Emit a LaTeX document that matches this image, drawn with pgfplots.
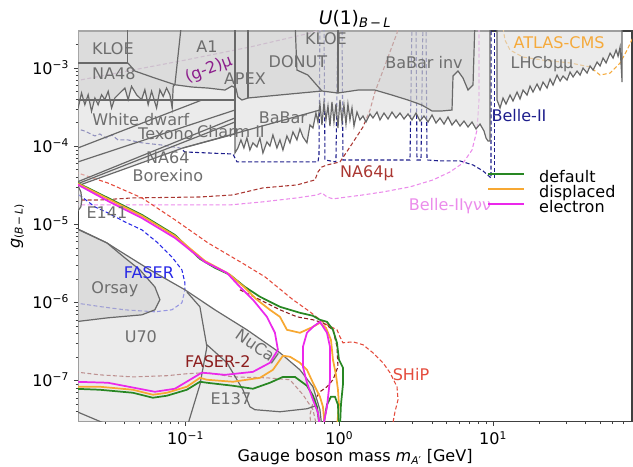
\documentclass[border=0pt]{standalone}
\usepackage{fontspec}
\setmainfont{DejaVu Sans}
\usepackage{pgfplots}
\pgfplotsset{compat=1.18}
\definecolor{gedge}{RGB}{105,105,105}
\definecolor{gfill}{RGB}{222,222,222}
\definecolor{gover}{RGB}{185,185,185}
\definecolor{txtgray}{RGB}{110,110,110}
\definecolor{cdefault}{RGB}{40,135,35}
\definecolor{cdisp}{RGB}{247,168,50}
\definecolor{celec}{RGB}{235,40,235}
\definecolor{cbelle}{RGB}{30,30,140}
\definecolor{cna}{RGB}{170,55,50}
\definecolor{cbinv}{RGB}{235,140,235}
\definecolor{cgtwo}{RGB}{205,150,205}
\definecolor{cgtwotxt}{RGB}{140,30,140}
\definecolor{catlas}{RGB}{245,170,60}
\definecolor{cfaser}{RGB}{40,40,230}
\definecolor{cfasertwo}{RGB}{140,30,30}
\definecolor{cship}{RGB}{228,75,60}
\pgfplotsset{fp/.style={forget plot}}
\tikzset{dsh/.style={line width=0.8pt, dash pattern=on 3pt off 1.8pt},
 edg/.style={draw=gedge, line width=0.9pt},
 sig/.style={line width=1.3pt},
 lab/.style={font=\fontsize{12}{14}\selectfont, text=txtgray, inner sep=0pt}}
\begin{document}
\begin{tikzpicture}
\begin{axis}[
 scale only axis, width=414.75pt, height=292.5pt,
 xmode=log, ymode=log,
 xmin=0.02, xmax=80, ymin=3e-8, ymax=3e-3,
 no markers,
 tick align=outside,
 xtick pos=lower, ytick pos=left,
 major tick length=3.2pt, minor tick length=1.8pt,
 every tick/.style={black!75, line width=0.6pt},
 axis line style={black!75, line width=0.8pt},
 xtick={0.1,1,10},
 xticklabels={10\textsuperscript{−1},10\textsuperscript{0},10\textsuperscript{1}},
 minor xtick={0.03,0.04,0.05,0.06,0.07,0.08,0.09,0.2,0.3,0.4,0.5,0.6,0.7,0.8,0.9,2,3,4,5,6,7,8,9,20,30,40,50,60,70},
 ytick={1e-7,1e-6,1e-5,1e-4,1e-3},
 yticklabels={10\textsuperscript{−7},10\textsuperscript{−6},10\textsuperscript{−5},10\textsuperscript{−4},10\textsuperscript{−3}},
 minor ytick={4e-8,5e-8,6e-8,7e-8,8e-8,9e-8,2e-7,3e-7,4e-7,5e-7,6e-7,7e-7,8e-7,9e-7,2e-6,3e-6,4e-6,5e-6,6e-6,7e-6,8e-6,9e-6,2e-5,3e-5,4e-5,5e-5,6e-5,7e-5,8e-5,9e-5,2e-4,3e-4,4e-4,5e-4,6e-4,7e-4,8e-4,9e-4,2e-3},
 ticklabel style={font=\fontsize{12}{14}\selectfont, inner sep=0pt},
 xticklabel style={anchor=base, yshift=-14.2pt},
 yticklabel style={anchor=base east, xshift=-3.4pt, yshift=-4.4pt},
 title={\textit{U}(1)\textsubscript{\textit{B}\,−\,\textit{L}}},
 title style={at={(axis description cs:0.5,1)}, anchor=base, yshift=-1.5pt, font=\fontsize{14}{16}\selectfont, inner sep=0pt},
 xlabel={Gauge boson mass \textit{m}\textsubscript{\textit{A}′} [GeV]},
 xlabel style={at={(axis description cs:0.5,-0.1026)}, anchor=base, font=\fontsize{12}{14}\selectfont, inner sep=0pt},
 ylabel={\textit{g}\textsubscript{(\textit{B}\,−\,\textit{L})}},
 ylabel style={at={(axis description cs:-0.105,0.5)}, anchor=base, font=\fontsize{12}{14}\selectfont, inner sep=0pt},
 legend style={at={(0.7387,0.6423)}, anchor=north west, draw=none, fill=none, inner sep=0pt, row sep=0pt, column sep=10pt, font=\fontsize{12}{12}\selectfont, nodes={inner sep=0.4pt, text height=8pt, text depth=2.5pt}},
 legend cell align=left,
 legend image code/.code={\draw[#1, line width=1.3pt] (0pt,3.5pt) -- (27pt,3.5pt);},
]
% ---------------- dashed projections (under the grey fills)
\addplot[fp, dsh, cbelle] coordinates {(0.0190,1.72e-4) (0.0221,1.57e-4) (0.0257,1.36e-4) (0.0277,1.44e-4) (0.0303,1.28e-4) (0.0332,1.40e-4) (0.0363,1.21e-4) (0.0421,1.21e-4) (0.0520,1.11e-4) (0.0701,1.04e-4) (0.0918,9.54e-5) (0.0990,8.48e-5) (0.203,7.99e-5) (0.216,6.32e-5) (0.726,6.32e-5) (0.737,7.76e-5) (0.748,4.2e-3) (0.794,4.2e-3) (0.806,6.70e-5) (0.950,6.32e-5) (0.979,4.2e-3) (1.040,4.2e-3) (1.055,6.70e-5) (2.879,6.70e-5) (2.968,4.2e-3) (3.150,4.2e-3) (3.198,6.70e-5) (3.395,6.70e-5) (3.499,4.2e-3) (3.659,4.2e-3) (3.715,6.70e-5) (4.513,6.51e-5) (6.090,6.51e-5) (7.400,5.78e-5) (8.598,4.85e-5) (9.690,3.94e-5) (9.690,4.2e-3)};
\addplot[fp, dsh, cbelle] coordinates {(10.14,3.94e-5) (10.14,4.2e-3)};
\addplot[fp, dsh, cna] coordinates {(0.0190,2.06e-5) (0.0277,2.06e-5) (0.0454,2.19e-5) (0.124,2.25e-5) (0.203,2.39e-5) (0.318,2.94e-5) (0.530,3.21e-5) (0.694,3.72e-5) (0.726,4.71e-5) (0.770,5.45e-5) (0.831,5.78e-5) (1.009,6.32e-5) (1.172,9.82e-5) (1.424,1.77e-4) (1.582,2.92e-4) (1.704,4.96e-4) (2.371,2.82e-3) (2.442,4.2e-3)};
\addplot[fp, dsh, cbinv] coordinates {(0.0190,1.78e-5) (0.0586,1.78e-5) (0.194,1.78e-5) (0.318,1.95e-5) (0.530,2.19e-5) (0.715,2.39e-5) (0.770,2.54e-5) (0.831,2.25e-5) (0.909,2.13e-5) (1.424,2.39e-5) (1.921,2.61e-5) (2.879,3.03e-5) (4.064,3.72e-5) (5.243,4.71e-5) (6.371,6.13e-5) (7.290,8.99e-5) (7.857,1.62e-4) (8.096,3.92e-4) (8.096,4.2e-3)};
\addplot[fp, dsh, cgtwo] coordinates {(0.0190,6.86e-4) (0.0990,1.27e-3) (0.262,1.87e-3) (0.644,2.82e-3) (0.869,3.36e-3)};
\addplot[fp, dsh, catlas] coordinates {(11.60,3.3e-3) (11.95,2.29e-3) (12.88,1.71e-3) (15.65,1.39e-3) (21.12,1.27e-3) (31.65,1.17e-3) (42.70,1.04e-3) (49.61,8.18e-4) (57.63,8.68e-4) (66.93,1.17e-3) (74.34,1.71e-3) (82,2.6e-3)};
\addplot[fp, dsh, cfaser] coordinates {(0.0202,2.39e-5) (0.0212,2.25e-5) (0.0257,1.68e-5) (0.0312,1.41e-5) (0.0403,1.08e-5) (0.0520,8.53e-6) (0.0660,5.82e-6) (0.0814,3.85e-6) (0.0946,2.63e-6) (0.0990,1.79e-6) (0.0990,1.46e-6) (0.0946,9.94e-7) (0.0814,8.09e-7) (0.0631,7.63e-7) (0.0403,8.09e-7) (0.0285,8.84e-7) (0.0190,9.94e-7)};
\addplot[fp, dsh, cfasertwo] coordinates {(0.0190,1.30e-7) (0.0277,1.19e-7) (0.0454,1.12e-7) (0.0756,1.16e-7) (0.1019,1.23e-7) (0.1376,1.27e-7) (0.203,1.12e-7) (0.338,1.09e-7) (0.477,1.03e-7) (0.580,6.62e-8) (0.6735,4.26e-8) (0.715,2.5e-8)};
\addplot[fp, dsh, cfasertwo] coordinates {(0.2255,1.46e-6) (0.304,1.09e-6) (0.411,8.09e-7) (0.530,6.58e-7) (0.6735,6.03e-7) (0.782,5.52e-7) (0.909,4.49e-7) (0.965,2.72e-7) (0.979,1.51e-7) (0.909,1.03e-7) (0.831,8.38e-8) (0.748,7.23e-8) (0.6735,5.23e-8) (0.644,3.67e-8) (0.6535,2.5e-8)};
\addplot[fp, dsh, cship] coordinates {(0.0190,4.71e-5) (0.0312,3.40e-5) (0.0520,2.19e-5) (0.0852,1.15e-5) (0.1397,5.82e-6) (0.2324,3.23e-6) (0.3281,2.14e-6) (0.499,1.09e-6) (0.644,7.63e-7) (0.748,6.03e-7) (0.831,5.20e-7) (0.965,4.49e-7) (1.009,3.65e-7) (1.055,3.06e-7) (1.226,3.15e-7) (1.424,2.89e-7) (1.654,2.28e-7) (1.921,1.70e-7) (2.134,1.27e-7) (2.371,8.38e-8) (2.406,5.71e-8) (2.300,4.01e-8) (2.199,2.5e-8)};
% ---------------- grey excluded regions
\addplot[fp, edg, fill=gfill, fill opacity=0.6] coordinates {(0.0190,3.03e-5) (0.0960,9.54e-5) (0.2093,1.44e-4) (0.2093,8.23e-5) (0.2189,9.54e-5) (0.2290,1.21e-4) (0.2394,9.54e-5) (0.2504,1.28e-4) (0.2619,8.99e-5) (0.2741,1.11e-4) (0.2910,9.82e-5) (0.3043,1.28e-4) (0.3183,8.23e-5) (0.3380,1.14e-4) (0.3535,1.01e-4) (0.3698,1.40e-4) (0.3926,9.54e-5) (0.4107,1.21e-4) (0.4295,8.99e-5) (0.4560,1.36e-4) (0.4771,1.11e-4) (0.4990,1.53e-4) (0.5298,1.21e-4) (0.5543,1.67e-4) (0.5797,1.32e-4) (0.6155,1.11e-4) (0.6438,1.88e-4) (0.6735,1.72e-4) (0.7041,2.67e-4) (0.7256,2.05e-4) (0.7477,3.49e-4) (0.7705,1.88e-4) (0.7940,3.59e-4) (0.8182,2.18e-4) (0.8431,3.29e-4) (0.8688,1.82e-4) (0.8951,3.70e-4) (0.9224,2.05e-4) (0.9504,3.49e-4) (0.9792,1.72e-4) (1.009,3.92e-4) (1.040,2.05e-4) (1.071,3.38e-4) (1.104,1.93e-4) (1.137,3.49e-4) (1.172,2.18e-4) (1.208,3.10e-4) (1.245,1.82e-4) (1.302,2.75e-4) (1.361,2.18e-4) (1.424,2.45e-4) (1.490,2.05e-4) (1.582,2.60e-4) (1.654,2.31e-4) (1.757,2.75e-4) (1.837,2.18e-4) (1.951,2.67e-4) (2.072,2.24e-4) (2.199,2.75e-4) (2.335,2.31e-4) (2.479,2.67e-4) (2.633,2.24e-4) (2.795,2.60e-4) (2.968,2.18e-4) (3.150,2.67e-4) (3.345,2.11e-4) (3.551,2.45e-4) (3.771,2.05e-4) (4.004,2.52e-4) (4.251,1.99e-4) (4.513,2.31e-4) (4.793,1.93e-4) (5.089,2.38e-4) (5.403,1.88e-4) (5.737,2.18e-4) (6.090,1.82e-4) (6.467,2.11e-4) (6.866,1.77e-4) (7.290,2.05e-4) (7.742,1.67e-4) (8.219,1.93e-4) (8.726,1.57e-4) (8.991,1.28e-4) (9.265,1.17e-4) (9.546,1.17e-4) (9.546,4.2e-3) (0.0190,4.2e-3)};
\addplot[fp, edg, fill=gfill, fill opacity=0.6] coordinates {(10.60,4.2e-3) (10.60,3.92e-4) (11.09,3.10e-4) (11.60,4.16e-4) (12.13,3.49e-4) (12.88,4.54e-4) (13.47,3.81e-4) (14.31,4.96e-4) (14.96,4.04e-4) (15.65,5.26e-4) (16.62,4.54e-4) (17.39,5.92e-4) (18.18,4.96e-4) (19.30,6.28e-4) (20.19,5.26e-4) (21.12,6.66e-4) (22.42,5.58e-4) (23.46,7.27e-4) (24.53,6.10e-4) (26.05,8.18e-4) (27.25,6.86e-4) (28.50,7.95e-4) (30.26,7.06e-4) (31.65,8.94e-4) (33.11,7.72e-4) (35.14,9.21e-4) (36.77,8.18e-4) (38.45,1.006e-3) (40.83,8.68e-4) (42.70,1.07e-3) (44.67,9.48e-4) (47.43,1.20e-3) (49.61,1.07e-3) (51.88,1.35e-3) (54.28,1.17e-3) (57.63,1.56e-3) (60.27,1.35e-3) (63.04,1.71e-3) (64.96,1.43e-3) (66.93,1.87e-3) (68.98,6.66e-4) (68.98,4.2e-3)};
\addplot[fp, edg, fill=gfill, fill opacity=0.6] coordinates {(0.0190,9.05e-6) (0.02053,8.53e-6) (0.03076,5.82e-6) (0.03627,4.73e-6) (0.05857,2.63e-6) (0.0990,1.46e-6) (0.1551,8.09e-7) (0.2504,4.49e-7) (0.4107,2.28e-7) (0.5543,1.38e-7) (0.6735,8.38e-8) (0.7477,4.26e-8) (0.7705,2.5e-8) (0.0190,2.5e-8)};
\addplot[fp, edg, fill=gfill, fill opacity=0.6] coordinates {(0.0190,3.12e-5) (0.0200,3.12e-5) (0.02084,2.61e-5) (0.02115,2.06e-5) (0.02084,1.68e-5) (0.0195,1.41e-5) (0.0190,1.41e-5)};
\addplot[fp, edg, fill=gover, fill opacity=0.3] coordinates {(0.0190,3.10e-4) (0.0200,3.10e-4) (0.02105,4.82e-4) (0.02212,3.41e-4) (0.02324,4.58e-4) (0.02445,2.81e-4) (0.02570,4.16e-4) (0.02700,3.41e-4) (0.02841,4.58e-4) (0.02984,3.96e-4) (0.03138,5.07e-4) (0.03301,3.10e-4) (0.03467,4.16e-4) (0.03737,4.82e-4) (0.04028,5.58e-4) (0.04230,3.96e-4) (0.04451,5.87e-4) (0.04799,4.58e-4) (0.05172,3.96e-4) (0.05434,5.31e-4) (0.05710,3.41e-4) (0.06009,5.07e-4) (0.06476,3.10e-4) (0.06805,5.31e-4) (0.07151,4.37e-4) (0.07524,5.58e-4) (0.07904,4.58e-4) (0.08181,3.10e-4) (0.08305,5.87e-4) (0.08519,6.15e-4) (0.1099,5.75e-4) (0.1397,5.58e-4) (0.1802,5.26e-4) (0.2001,5.92e-4) (0.2124,5.58e-4) (0.2189,4.28e-4) (0.2324,3.92e-4) (0.2542,4.16e-4) (0.4771,4.68e-4) (0.7705,5.11e-4) (0.9792,4.82e-4) (1.321,5.26e-4) (1.704,5.26e-4) (2.199,4.54e-4) (2.795,3.92e-4) (3.446,3.38e-4) (4.004,2.84e-4) (4.651,2.84e-4) (5.403,2.92e-4) (5.484,7.95e-4) (5.910,9.21e-4) (6.371,7.49e-4) (6.866,5.26e-4) (7.400,6.10e-4) (7.625,4.2e-3) (0.0190,4.2e-3)};
\addplot[fp, edg, fill=gover, fill opacity=0.3] coordinates {(0.0190,9.05e-6) (0.03076,5.82e-6) (0.04028,3.74e-6) (0.05043,2.63e-6) (0.06313,1.59e-6) (0.06805,1.09e-6) (0.06313,8.09e-7) (0.05196,6.98e-7) (0.03124,6.39e-7) (0.0190,5.68e-7)};
% ---------------- grey boundary lines
\addplot[fp, edg] coordinates {(0.04212,4.2e-3) (0.04212,1.17e-3) (0.0190,1.17e-3)};
\addplot[fp, edg] coordinates {(0.04212,1.17e-3) (0.04679,9.21e-4) (0.06313,7.49e-4) (0.08519,6.15e-4)};
\addplot[fp, edg] coordinates {(0.09461,4.2e-3) (0.08519,6.15e-4)};
\addplot[fp, edg] coordinates {(0.2093,4.2e-3) (0.2093,1.44e-4)};
\addplot[fp, edg] coordinates {(0.2542,4.2e-3) (0.2542,4.16e-4)};
\addplot[fp, edg] coordinates {(0.5142,4.2e-3) (0.5298,9.48e-4) (0.6248,8.18e-4) (0.7705,5.11e-4)};
\addplot[fp, edg] coordinates {(0.9792,4.2e-3) (0.9792,4.82e-4)};
\addplot[fp, edg] coordinates {(0.0190,3.92e-4) (0.2093,3.92e-4)};
\addplot[fp, edg] coordinates {(0.0190,9.2e-5) (0.1276,3.92e-4)};
\addplot[fp, edg] coordinates {(0.0190,6.13e-5) (0.2093,2.92e-4)};
\addplot[fp, edg] coordinates {(0.0190,3.40e-5) (0.2093,2.31e-4)};
\addplot[fp, edg] coordinates {(0.0190,3.21e-5) (0.2093,2.05e-4)};
\addplot[fp, edg] coordinates {(0.0960,9.54e-5) (0.7477,2.92e-4)};
\addplot[fp, edg] coordinates {(0.1019,1.37e-6) (0.1239,8.84e-7) (0.1376,2.72e-7) (0.1239,8.89e-8) (0.1019,2.5e-8)};
\addplot[fp, edg] coordinates {(0.1376,2.89e-7) (0.1857,1.70e-7) (0.2359,7.67e-8) (0.2619,4.65e-8) (0.2824,4.26e-8) (0.4107,4.01e-8) (0.6155,4.38e-8) (0.7041,4.79e-8)};
\addplot[fp, edg] coordinates {(0.0190,4.13e-8) (0.0347,2.5e-8)};
% ---------------- sensitivity curves
\addplot[sig, cdefault] coordinates {(0.0190,3.55e-5) (0.03124,2.19e-5) (0.05196,1.33e-5) (0.08519,7.36e-6) (0.1239,3.63e-6) (0.1551,2.79e-6) (0.1942,2.27e-6) (0.2430,1.59e-6) (0.3043,1.19e-6) (0.4107,8.84e-7) (0.5543,7.41e-7) (0.6735,6.78e-7) (0.7477,6.03e-7) (0.8306,5.68e-7) (0.9087,4.49e-7) (0.9647,3.06e-7) (0.9940,1.86e-7) (1.055,1.47e-7) (1.055,8.89e-8) (1.024,4.93e-8) (1.009,2.5e-8)};
\addlegendentry{default}
\addplot[sig, cdisp] coordinates {(0.0190,3.50e-5) (0.03124,2.13e-5) (0.05196,1.29e-5) (0.08519,7.15e-6) (0.1335,3.42e-6) (0.1913,2.33e-6) (0.2430,1.55e-6) (0.2910,1.09e-6) (0.3535,8.09e-7) (0.4107,6.58e-7) (0.4560,4.49e-7) (0.5543,4.11e-7) (0.6735,4.90e-7) (0.7477,5.52e-7) (0.8182,4.76e-7) (0.8818,3.34e-7) (0.9087,1.86e-7) (0.9504,1.19e-7) (0.9792,7.67e-8) (0.9940,4.93e-8) (0.9647,2.5e-8)};
\addlegendentry{displaced}
\addplot[sig, celec] coordinates {(0.0190,3.40e-5) (0.03124,2.00e-5) (0.05196,1.21e-5) (0.08519,6.74e-6) (0.1335,3.32e-6) (0.1857,2.40e-6) (0.2255,1.59e-6) (0.2741,1.09e-6) (0.3380,6.58e-7) (0.3811,4.11e-7) (0.3985,2.49e-7) (0.3535,1.70e-7) (0.2741,1.30e-7) (0.1802,1.19e-7) (0.1276,1.27e-7) (0.08519,7.90e-8) (0.06313,7.23e-8) (0.03124,9.43e-8) (0.0190,9.71e-8)};
\addlegendentry{electron}
\addplot[fp, sig, cdefault] coordinates {(0.0190,7.90e-8) (0.02769,7.67e-8) (0.04540,7.02e-8) (0.06127,6.06e-8) (0.07557,6.43e-8) (0.1019,7.67e-8) (0.1239,9.71e-8) (0.1376,9.43e-8) (0.2031,8.63e-8) (0.2741,7.90e-8) (0.3535,9.43e-8) (0.4295,1.12e-7) (0.5142,1.12e-7) (0.6155,8.63e-8) (0.6735,6.43e-8) (0.7148,4.65e-8) (0.7477,2.5e-8)};
\addplot[fp, sig, cdefault] coordinates {(0.7822,2.5e-8) (0.8306,4.93e-8) (0.8818,6.24e-8) (0.9363,6.24e-8) (0.9792,4.93e-8) (0.9940,2.5e-8)};
\addplot[fp, sig, cdisp] coordinates {(0.0190,8.38e-8) (0.02769,8.38e-8) (0.04540,7.67e-8) (0.06127,6.62e-8) (0.07557,7.02e-8) (0.1019,8.38e-8) (0.1239,1.09e-7) (0.1376,1.03e-7) (0.2031,9.71e-8) (0.3043,1.09e-7) (0.3698,1.38e-7) (0.4295,2.09e-7) (0.4771,2.03e-7) (0.5543,1.70e-7) (0.6155,1.38e-7) (0.6735,9.43e-8) (0.7477,6.24e-8) (0.7822,4.65e-8) (0.8060,2.5e-8)};
\addplot[fp, sig, celec] coordinates {(0.7477,2.5e-8) (0.7256,3.90e-8) (0.6735,5.71e-8) (0.6155,9.43e-8) (0.5797,1.51e-7) (0.5797,2.72e-7) (0.6155,4.11e-7) (0.6735,4.90e-7) (0.7477,5.68e-7) (0.8306,4.11e-7) (0.8688,2.72e-7) (0.8688,1.03e-7) (0.8306,4.65e-8) (0.7822,2.5e-8)};
% ---------------- labels
\node[lab] at (axis cs:0.03365,1.76e-3) {KLOE};
\node[lab] at (axis cs:0.03416,8.43e-4) {NA48};
\node[lab] at (axis cs:0.1376,1.87e-3) {A1};
\node[lab] at (axis cs:0.2430,7.27e-4) {APEX};
\node[lab] at (axis cs:0.5377,1.20e-3) {DONUT};
\node[lab] at (axis cs:0.8182,2.36e-3) {KLOE};
\node[lab] at (axis cs:3.551,1.20e-3) {BaBar inv};
\node[lab] at (axis cs:20.81,1.12e-3) {LHCbμμ};
\node[lab, text=catlas] at (axis cs:26.84,2.10e-3) {ATLAS-CMS};
\node[lab] at (axis cs:0.05118,2.18e-4) {White dwarf};
\node[lab] at (axis cs:0.07444,1.44e-4) {Texono};
\node[lab] at (axis cs:0.1971,1.53e-4) {Charm II};
\node[lab] at (axis cs:0.4295,2.31e-4) {BaBar};
\node[lab] at (axis cs:0.07670,7.11e-5) {NA64};
\node[lab] at (axis cs:0.07670,4.18e-5) {Borexino};
\node[lab] at (axis cs:0.03076,1.41e-5) {E141};
\node[lab] at (axis cs:0.03467,1.50e-6) {Orsay};
\node[lab] at (axis cs:0.05118,3.65e-7) {U70};
\node[lab, rotate=-35] at (axis cs:0.2920,2.75e-7) {NuCal};
\node[lab] at (axis cs:0.1971,5.89e-8) {E137};
\node[lab, text=cfaser] at (axis cs:0.05770,2.40e-6) {FASER};
\node[lab, text=cfasertwo] at (axis cs:0.1620,1.78e-7) {FASER-2};
\node[lab, text=cship] at (axis cs:2.923,1.19e-7) {SHiP};
\node[lab, text=cbelle] at (axis cs:14.74,2.45e-4) {Belle-II};
\node[lab, text=cna] at (axis cs:1.512,4.60e-5) {NA64μ};
\node[lab, text=cbinv] at (axis cs:5.243,1.74e-5) {Belle-IIγνν};
\node[lab, text=cgtwotxt, rotate=21] at (axis cs:0.1417,9.6e-4) {(g-2)μ};
\end{axis}
\pgfresetboundingbox
\path[use as bounding box] ([shift={(-58.5pt,-33.8pt)}]current axis.south west) rectangle ([shift={(0.75pt,23.2pt)}]current axis.north east);
\end{tikzpicture}
\end{document}
